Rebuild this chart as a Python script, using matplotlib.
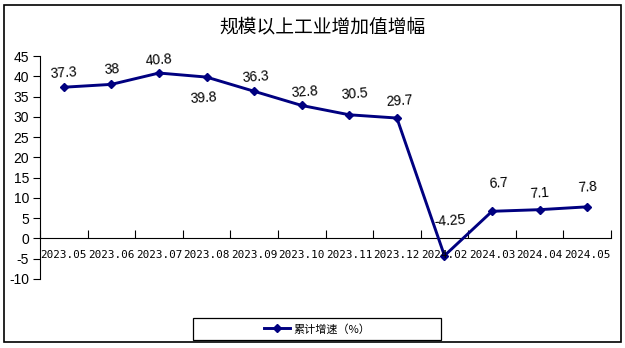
import matplotlib
matplotlib.use("Agg")
import matplotlib.pyplot as plt
from matplotlib.patches import Rectangle
from matplotlib.lines import Line2D

plt.rcParams['font.family'] = ['Liberation Sans', 'Noto Sans CJK SC', 'DejaVu Sans']

title = "规模以上工业增加值增幅"
series_name = "累计增速（%）"
months = ["2023.05", "2023.06", "2023.07", "2023.08", "2023.09", "2023.10",
          "2023.11", "2023.12", "2024.02", "2024.03", "2024.04", "2024.05"]
growth = [37.3, 38, 40.8, 39.8, 36.3, 32.8, 30.5, 29.7, -4.25, 6.7, 7.1, 7.8]
value_labels = ["37.3", "38", "40.8", "39.8", "36.3", "32.8", "30.5", "29.7",
                "-4.25", "6.7", "7.1", "7.8"]
y_ticks = [45, 40, 35, 30, 25, 20, 15, 10, 5, 0, -5, -10]

# per-label offsets in points (dx, dy)
label_offsets = [(0, 10), (0, 11), (0, 9), (-2, -15), (1, 10), (2, 10),
                 (4, 15), (2, 12), (4, 25), (5, 20), (0, 12), (0, 14)]

navy = "#000080"
W, H = 625, 348
fig = plt.figure(figsize=(W / 100, H / 100), dpi=100)

# outer frame
fig.patches.append(Rectangle((4 / W, 6 / H), 617 / W, 337 / H, transform=fig.transFigure,
                             fill=False, edgecolor="black", linewidth=1.2))

ax = fig.add_axes([40 / W, 1 - 279 / H, 571 / W, 223 / H])
x = list(range(len(months)))
ax.plot(x, growth, color=navy, linewidth=2.1, marker="D", markersize=4.5,
        markerfacecolor=navy, markeredgecolor=navy, zorder=3)

ax.set_xlim(-0.5, len(months) - 0.5)
ax.set_ylim(-10, 45)
ax.set_yticks(y_ticks)
ax.set_yticklabels([str(v) for v in y_ticks], fontsize=10)
ax.tick_params(axis="y", direction="out", length=5, width=0.8, pad=3)

for s in ["top", "right"]:
    ax.spines[s].set_visible(False)
ax.spines["bottom"].set_position(("data", 0))
ax.spines["left"].set_linewidth(0.8)
ax.spines["bottom"].set_linewidth(0.8)

ax.set_xticks([i + 0.5 for i in range(-1, len(months))])
ax.set_xticklabels([])
ax.tick_params(axis="x", direction="in", length=6, width=0.8)

for i, m in enumerate(months):
    ax.text(i, -4.2, m, ha="center", va="center", fontsize=7.9,
            family=["DejaVu Sans Mono"], color="black")

for i, (v, t) in enumerate(zip(growth, value_labels)):
    dx, dy = label_offsets[i]
    ax.annotate(t, (i, v), xytext=(dx, dy), textcoords="offset points",
                ha="center", va="center", fontsize=10, rotation=4)

fig.text(322 / W, 1 - 27 / H, title, ha="center", va="center", fontsize=13.5,
         family=["Noto Sans CJK SC", "DejaVu Sans"])

# legend box
fig.patches.append(Rectangle((193 / W, 1 - 340 / H), 248 / W, 22 / H, transform=fig.transFigure,
                             fill=False, edgecolor="black", linewidth=0.9))
handle = Line2D([], [], color=navy, linewidth=2.1, marker="D", markersize=4.5)
fig.legend([handle], [series_name], loc="center", bbox_to_anchor=(317 / W, 1 - 329 / H),
           frameon=False, handlelength=2.4, handletextpad=0.3,
           prop={"family": ["Noto Sans CJK SC", "DejaVu Sans"], "size": 8})

fig.savefig("out.png", dpi=100)
